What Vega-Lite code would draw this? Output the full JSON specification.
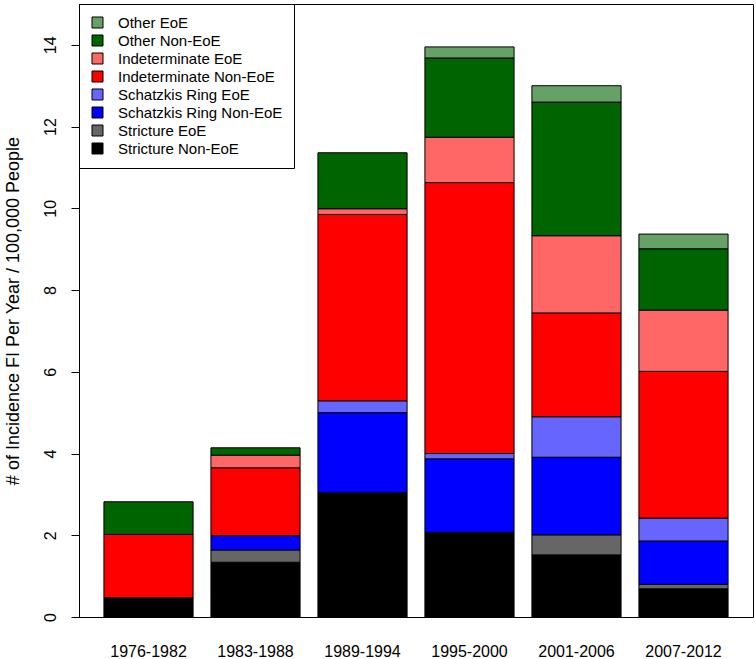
{
  "$schema": "https://vega.github.io/schema/vega-lite/v6.json",
  "width": 674,
  "height": 613,
  "autosize": {"type": "none"},
  "padding": {"left": 79, "top": 4, "right": 3, "bottom": 42},
  "background": "white",
  "config": {
    "font": "Liberation Sans",
    "view": {"stroke": "black", "strokeWidth": 1},
    "axis": {"labelColor": "black", "titleColor": "black", "grid": false}
  },
  "data": {
    "values": [
      {"period": "1976-1982", "category": "Stricture Non-EoE", "rank": 1, "value": 0.47},
      {"period": "1976-1982", "category": "Indeterminate Non-EoE", "rank": 5, "value": 1.55},
      {"period": "1976-1982", "category": "Other Non-EoE", "rank": 7, "value": 0.80},

      {"period": "1983-1988", "category": "Stricture Non-EoE", "rank": 1, "value": 1.34},
      {"period": "1983-1988", "category": "Stricture EoE", "rank": 2, "value": 0.30},
      {"period": "1983-1988", "category": "Schatzkis Ring Non-EoE", "rank": 3, "value": 0.35},
      {"period": "1983-1988", "category": "Indeterminate Non-EoE", "rank": 5, "value": 1.66},
      {"period": "1983-1988", "category": "Indeterminate EoE", "rank": 6, "value": 0.31},
      {"period": "1983-1988", "category": "Other Non-EoE", "rank": 7, "value": 0.18},

      {"period": "1989-1994", "category": "Stricture Non-EoE", "rank": 1, "value": 3.04},
      {"period": "1989-1994", "category": "Schatzkis Ring Non-EoE", "rank": 3, "value": 1.96},
      {"period": "1989-1994", "category": "Schatzkis Ring EoE", "rank": 4, "value": 0.29},
      {"period": "1989-1994", "category": "Indeterminate Non-EoE", "rank": 5, "value": 4.56},
      {"period": "1989-1994", "category": "Indeterminate EoE", "rank": 6, "value": 0.14},
      {"period": "1989-1994", "category": "Other Non-EoE", "rank": 7, "value": 1.37},

      {"period": "1995-2000", "category": "Stricture Non-EoE", "rank": 1, "value": 2.07},
      {"period": "1995-2000", "category": "Schatzkis Ring Non-EoE", "rank": 3, "value": 1.80},
      {"period": "1995-2000", "category": "Schatzkis Ring EoE", "rank": 4, "value": 0.13},
      {"period": "1995-2000", "category": "Indeterminate Non-EoE", "rank": 5, "value": 6.63},
      {"period": "1995-2000", "category": "Indeterminate EoE", "rank": 6, "value": 1.11},
      {"period": "1995-2000", "category": "Other Non-EoE", "rank": 7, "value": 1.94},
      {"period": "1995-2000", "category": "Other EoE", "rank": 8, "value": 0.27},

      {"period": "2001-2006", "category": "Stricture Non-EoE", "rank": 1, "value": 1.52},
      {"period": "2001-2006", "category": "Stricture EoE", "rank": 2, "value": 0.49},
      {"period": "2001-2006", "category": "Schatzkis Ring Non-EoE", "rank": 3, "value": 1.90},
      {"period": "2001-2006", "category": "Schatzkis Ring EoE", "rank": 4, "value": 0.99},
      {"period": "2001-2006", "category": "Indeterminate Non-EoE", "rank": 5, "value": 2.54},
      {"period": "2001-2006", "category": "Indeterminate EoE", "rank": 6, "value": 1.89},
      {"period": "2001-2006", "category": "Other Non-EoE", "rank": 7, "value": 3.27},
      {"period": "2001-2006", "category": "Other EoE", "rank": 8, "value": 0.40},

      {"period": "2007-2012", "category": "Stricture Non-EoE", "rank": 1, "value": 0.69},
      {"period": "2007-2012", "category": "Stricture EoE", "rank": 2, "value": 0.11},
      {"period": "2007-2012", "category": "Schatzkis Ring Non-EoE", "rank": 3, "value": 1.06},
      {"period": "2007-2012", "category": "Schatzkis Ring EoE", "rank": 4, "value": 0.56},
      {"period": "2007-2012", "category": "Indeterminate Non-EoE", "rank": 5, "value": 3.59},
      {"period": "2007-2012", "category": "Indeterminate EoE", "rank": 6, "value": 1.50},
      {"period": "2007-2012", "category": "Other Non-EoE", "rank": 7, "value": 1.50},
      {"period": "2007-2012", "category": "Other EoE", "rank": 8, "value": 0.36}
    ]
  },
  "mark": {"type": "bar", "stroke": "black", "strokeWidth": 1, "opacity": 1},
  "encoding": {
    "x": {
      "field": "period",
      "type": "nominal",
      "sort": null,
      "scale": {"paddingInner": 0.1667, "paddingOuter": 0.233},
      "axis": {
        "title": null,
        "labelAngle": 0,
        "labelFontSize": 16,
        "ticks": false,
        "domain": false,
        "labelPadding": 26,
        "labelBaseline": "top"
      }
    },
    "y": {
      "field": "value",
      "type": "quantitative",
      "stack": "zero",
      "scale": {"domain": [0, 15], "nice": false, "zero": true},
      "axis": {
        "title": "# of Incidence FI Per Year / 100,000 People",
        "titleFontSize": 18,
        "titleFontWeight": "normal",
        "titlePadding": 20,
        "values": [0, 2, 4, 6, 8, 10, 12, 14],
        "labelAngle": -90,
        "labelAlign": "center",
        "labelBaseline": "bottom",
        "labelFontSize": 16,
        "labelPadding": 13,
        "tickSize": 8,
        "tickColor": "black",
        "domainColor": "black"
      }
    },
    "color": {
      "field": "category",
      "type": "nominal",
      "scale": {
        "domain": ["Other EoE", "Other Non-EoE", "Indeterminate EoE", "Indeterminate Non-EoE", "Schatzkis Ring EoE", "Schatzkis Ring Non-EoE", "Stricture EoE", "Stricture Non-EoE"],
        "range": ["#66A266", "#006400", "#FF6666", "#FF0000", "#6666FF", "#0000FF", "#666666", "#000000"]
      },
      "legend": {
        "title": null,
        "orient": "none",
        "legendX": 0,
        "legendY": 0,
        "strokeColor": "black",
        "fillColor": "white",
        "padding": 11,
        "symbolType": "square",
        "symbolSize": 121,
        "symbolStrokeColor": "black",
        "symbolStrokeWidth": 1,
        "symbolOpacity": 1,
        "labelFontSize": 15,
        "labelColor": "black",
        "labelOffset": 13,
        "labelLimit": 400,
        "rowPadding": 2
      }
    },
    "order": {"field": "rank", "type": "quantitative"}
  }
}
